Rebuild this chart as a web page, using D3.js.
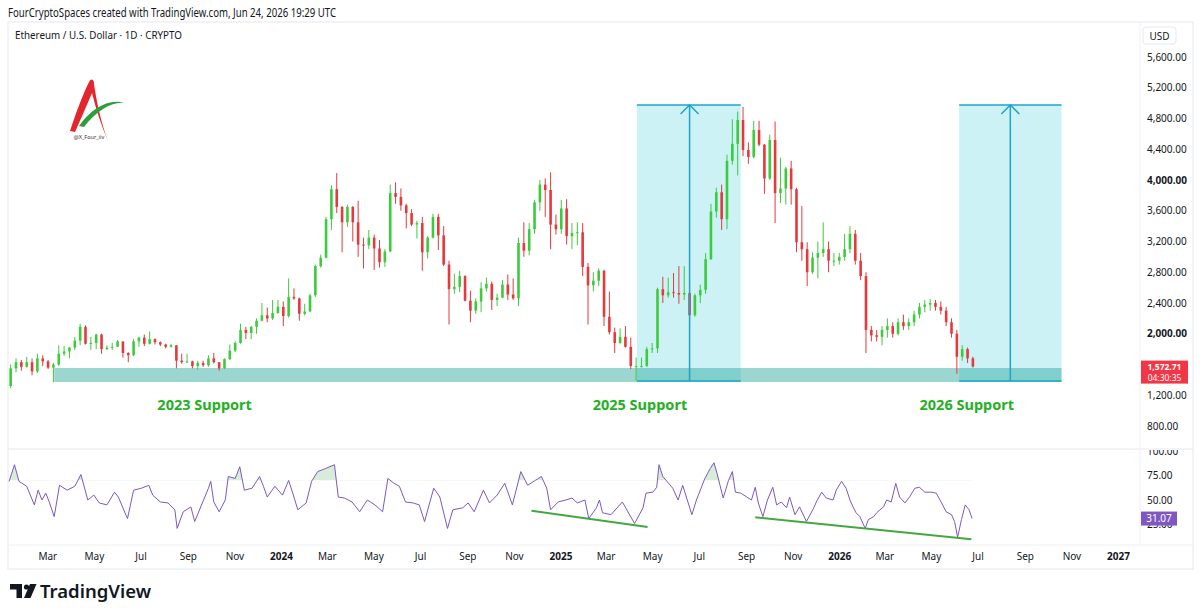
<!DOCTYPE html>
<html>
<head>
<meta charset="utf-8">
<script src="https://cdn.jsdelivr.net/npm/d3@7/dist/d3.min.js"></script>
<style>
html,body{margin:0;padding:0;background:#fff;}
svg{display:block;}
text{font-family:"Noto Sans","Open Sans",sans-serif;}
</style>
</head>
<body>
<svg id="chart" width="1200" height="615"></svg>
<script>
// ================= DATA =================
// Weekly ETH/USD candles (open = previous close), first week starting Monday 2023-01-09
const candleStart = "2023-01-09";
const firstOpen = 1320;
const closes = [
 1550,1630,1570,1630,1510,1680,1640,1560,1600,1740,1770,1820,1910,2090,1870,1880,1990,1800,1820,1830,1900,1750,1720,1900,1950,1870,1930,1890,1860,1830,1850,1650,1630,1640,1580,1620,1590,1680,1630,1550,1670,1780,1880,2050,2010,2090,2170,2240,2200,2270,2350,
 2230,2480,2460,2260,2290,2500,2880,2990,3490,3880,3650,3450,3650,3450,3160,3150,3250,3110,2930,3070,3830,3780,3670,3570,3420,3440,3060,3250,3520,3280,2900,2580,2610,2750,2430,2300,2420,2590,2650,2440,2470,2640,2510,2460,3180,3080,3360,3710,3940,3870,3420,3360,3630,
 3270,3310,3320,2870,2630,2690,2820,2220,2020,1880,1960,1830,1580,1580,1580,1800,1810,2580,2500,2540,2530,2510,2530,2240,2500,2570,2970,3590,3840,3490,4250,4470,4780,4390,4300,4650,4460,4020,4520,3830,3890,4150,3880,3190,3100,2800,2990,3050,3100,2950,2950,3000,
 3100,3300,2950,2750,2050,1980,1960,2050,2100,2000,2150,2100,2150,2250,2350,2380,2400,2350,2300,2150,2000,1700,1800,1680,1573
];
const highs = [
 1600,1680,1660,1700,1680,1740,1720,1660,1620,1850,1840,1830,1960,2130,2110,1960,2000,2000,1850,1880,1920,1900,1760,1930,1960,1990,2030,1940,1900,1870,1870,1850,1740,1740,1650,1650,1650,1720,1750,1630,1680,1860,1900,2130,2090,2100,2200,2400,2340,2440,2440,
 2420,2720,2590,2470,2390,2520,2900,3030,3520,3930,4090,3660,3680,3660,3730,3250,3350,3290,3220,3100,3940,3970,3890,3690,3620,3470,3520,3270,3560,3560,3400,2950,2780,2820,2760,2560,2460,2670,2730,2680,2520,2700,2770,2720,3250,3450,3440,3740,4000,4020,4100,3550,3740,
 3750,3440,3450,3440,2920,2800,2850,2830,2550,2080,2070,2100,1950,1690,1690,1830,1880,2600,2740,2730,2790,2880,2880,2680,2520,2640,3050,3690,3900,3940,4330,4790,4890,4950,4490,4770,4770,4470,4590,4760,4290,4170,4250,3900,3660,3190,3060,3200,3450,3200,3050,3050,
 3300,3400,3350,3050,2800,2100,2050,2100,2200,2150,2200,2250,2200,2300,2400,2440,2450,2440,2420,2350,2200,2050,1850,1820,1700
];
const lows = [
 1290,1500,1520,1560,1460,1490,1580,1540,1370,1580,1710,1680,1790,1850,1860,1790,1800,1740,1790,1790,1830,1690,1630,1710,1830,1840,1860,1860,1840,1810,1820,1550,1610,1620,1550,1530,1570,1570,1610,1520,1540,1660,1760,1870,1930,1930,2000,2160,2150,2180,2260,
 2100,2210,2440,2170,2240,2280,2480,2860,2980,3350,3570,3060,3390,3200,3000,2850,3100,2830,2860,2870,3060,3690,3600,3370,3400,3240,2820,2980,3240,3090,2880,2120,2520,2540,2420,2150,2260,2280,2550,2310,2360,2460,2440,2440,2360,3000,3020,3300,3600,3520,3100,3290,3300,
 3160,3100,3150,2750,2120,2550,2620,2100,1990,1750,1870,1820,1540,1390,1560,1570,1750,1750,2400,2470,2470,2390,2440,2110,2220,2400,2520,2960,3510,3350,3360,4200,4060,4310,4210,4280,4440,3820,4000,3440,3700,3680,3680,3060,2950,2620,2780,2720,3000,2800,2880,2900,
 2950,3050,2900,2700,1750,1900,1900,1850,1950,1950,1980,2050,2050,2100,2200,2280,2300,2300,2250,2100,1950,1480,1650,1620,1560
];

// RSI(14)
const rsiDates = ["2023-01-10","2023-01-17","2023-01-23","2023-02-02","2023-02-12","2023-02-17","2023-02-22","2023-02-27","2023-03-04","2023-03-10","2023-03-17","2023-03-27","2023-04-06","2023-04-14","2023-04-23","2023-05-01","2023-05-08","2023-05-18","2023-05-28","2023-06-02","2023-06-14","2023-06-22","2023-07-02","2023-07-12","2023-07-17","2023-07-27","2023-08-06","2023-08-15","2023-08-18","2023-08-26","2023-09-05","2023-09-10","2023-09-20","2023-09-28","2023-10-01","2023-10-05","2023-10-12","2023-10-20","2023-10-24","2023-11-02","2023-11-08","2023-11-14","2023-11-24","2023-12-04","2023-12-09","2023-12-14","2023-12-24",
 "2024-01-03","2024-01-11","2024-01-18","2024-01-23","2024-02-03","2024-02-10","2024-02-18","2024-02-28","2024-03-11","2024-03-16","2024-03-24","2024-04-03","2024-04-13","2024-04-23","2024-05-03","2024-05-13","2024-05-20","2024-05-28","2024-06-04","2024-06-12","2024-06-22","2024-06-30","2024-07-07","2024-07-14","2024-07-19","2024-07-27","2024-08-06","2024-08-13","2024-08-26","2024-09-02","2024-09-10","2024-09-22","2024-09-30","2024-10-10","2024-10-20","2024-10-30","2024-11-10","2024-11-19","2024-11-29","2024-12-07","2024-12-14","2024-12-19","2024-12-29",
 "2025-01-08","2025-01-16","2025-01-23","2025-02-02","2025-02-07","2025-02-17","2025-02-21","2025-02-25","2025-03-08","2025-03-23","2025-04-08","2025-04-19","2025-04-23","2025-05-02","2025-05-07","2025-05-10","2025-05-15","2025-05-28","2025-06-04","2025-06-10","2025-06-16","2025-06-22","2025-06-28","2025-07-09","2025-07-16","2025-07-21","2025-07-25","2025-08-02","2025-08-09","2025-08-14","2025-08-18","2025-08-25","2025-09-02","2025-09-08","2025-09-13","2025-09-17","2025-09-23","2025-09-29","2025-10-06","2025-10-11","2025-10-17","2025-10-24","2025-10-28","2025-11-04","2025-11-10","2025-11-19","2025-11-28","2025-12-02","2025-12-09","2025-12-15","2025-12-24","2025-12-28",
 "2026-01-04","2026-01-10","2026-01-15","2026-01-19","2026-01-23","2026-01-28","2026-02-04","2026-02-08","2026-02-15","2026-02-19","2026-02-28","2026-03-04","2026-03-10","2026-03-16","2026-03-21","2026-03-28","2026-04-03","2026-04-10","2026-04-16","2026-04-23","2026-05-02","2026-05-08","2026-05-15","2026-05-21","2026-05-28","2026-06-01","2026-06-05","2026-06-10","2026-06-15","2026-06-20","2026-06-24"];
const rsiValues = [69,86,69,64,45,60,50,57,47,33,65,60,64,76,50,55,47,45,58,53,31,60,62,65,55,48,47,40,21,38,43,28,47,62,69,48,38,50,74,72,84,60,62,74,64,53,64,
 55,70,53,40,47,69,79,82,86,53,52,48,38,50,45,38,72,67,64,48,47,45,28,48,62,53,21,40,42,47,38,60,47,55,67,45,79,65,70,74,62,40,48,
 50,52,47,50,31,42,50,37,35,48,26,42,57,58,63,86,74,62,50,65,50,35,50,72,82,88,77,52,70,79,58,57,53,50,63,47,33,50,63,45,48,42,53,35,43,28,41,48,58,52,50,60,
 69,62,50,43,37,33,21,30,33,37,43,50,48,67,53,47,53,62,63,58,58,57,47,38,35,28,12,30,45,40,31.07];

// RSI divergence lines [start, end]
const rsiLineDates = [["2024-11-24","2025-04-25"],["2025-09-13","2026-06-23"]];
const rsiLineValues = [[39,22.4],[32.3,9.9]];

// Support zone and price-range boxes
const supportDates = ["2023-03-10","2026-10-19"];
const supportPrices = [1372,1554];
const rangeBoxStart = ["2025-04-11","2026-06-07"];
const rangeBoxEnd = ["2025-08-25","2026-10-19"];
const rangeBoxArrow = ["2025-06-19","2026-08-13"];
const rangeBoxPrices = [1385,4976];

const supportLabels = ["2023 Support","2025 Support","2026 Support"];
const supportLabelDates = ["2023-09-23","2025-04-15","2026-06-17"];
const supportLabelPrice = 1010;

const priceTicks = [800,1200,2000,2400,2800,3200,3600,4000,4400,4800,5200,5600];
const boldPriceTicks = [2000,4000];
const rsiTicks = [25,50,75,100];
const timeTickDates = ["2023-03-01","2023-05-01","2023-07-01","2023-09-01","2023-11-01","2024-01-01","2024-03-01","2024-05-01","2024-07-01","2024-09-01","2024-11-01","2025-01-01","2025-03-01","2025-05-01","2025-07-01","2025-09-01","2025-11-01","2026-01-01","2026-03-01","2026-05-01","2026-07-01","2026-09-01","2026-11-01","2027-01-01"];
const timeTickLabels = ["Mar","May","Jul","Sep","Nov","2024","Mar","May","Jul","Sep","Nov","2025","Mar","May","Jul","Sep","Nov","2026","Mar","May","Jul","Sep","Nov","2027"];

const lastPrice = 1572.71;
const countdown = "04:30:35";
const lastRsi = 31.07;

// ================= LAYOUT =================
const svg = d3.select("#chart");
const L = 8, R = 1193, AX = 1140, TOP = 22, PB = 449, RB = 545, BOT = 569;
const parse = d3.utcParse("%Y-%m-%d");
const UP = "#3ccb3c", DOWN = "#e5393c", RANGE = "#1fa3c8";

const x = d3.scaleUtc().domain([parse("2024-01-01"), parse("2027-01-01")]).range([281, 1118]);
const y = d3.scaleLinear().domain([800, 5600]).range([426, 57]);
const yr = d3.scaleLinear().domain([0, 100]).range([549, 451]);

const defs = svg.append("defs");
defs.append("clipPath").attr("id","cp").append("rect").attr("x",L).attr("y",TOP).attr("width",AX-L).attr("height",PB-TOP);
defs.append("clipPath").attr("id","cr").append("rect").attr("x",L).attr("y",PB).attr("width",AX-L).attr("height",RB-PB);
defs.append("clipPath").attr("id","crAxis").append("rect").attr("x",AX).attr("y",PB+1).attr("width",R-AX).attr("height",RB-PB);
defs.append("clipPath").attr("id","cOB").append("rect").attr("x",L).attr("y",PB).attr("width",AX-L).attr("height",yr(70)-PB);

// frame
svg.append("rect").attr("x",L).attr("y",TOP).attr("width",R-L).attr("height",BOT-TOP).attr("fill","#fff").attr("stroke","#e6e8ee");
svg.append("line").attr("x1",L).attr("x2",R).attr("y1",PB).attr("y2",PB).attr("stroke","#e6e8ee");
svg.append("line").attr("x1",L).attr("x2",R).attr("y1",RB).attr("y2",RB).attr("stroke","#eef0f3");
svg.append("line").attr("x1",AX).attr("x2",AX).attr("y1",TOP).attr("y2",RB).attr("stroke","#eef0f3");

// header
svg.append("text").attr("x",8).attr("y",17).attr("font-size",12).attr("fill","#131722")
  .attr("textLength",328).attr("lengthAdjust","spacingAndGlyphs")
  .text("FourCryptoSpaces created with TradingView.com, Jun 24, 2026 19:29 UTC");
svg.append("text").attr("x",15).attr("y",38.5).attr("font-size",10.5).attr("fill","#131722")
  .attr("textLength",167).attr("lengthAdjust","spacingAndGlyphs")
  .text("Ethereum / U.S. Dollar \u00B7 1D \u00B7 CRYPTO");

// ---------- price pane ----------
const pane = svg.append("g").attr("clip-path","url(#cp)");

rangeBoxStart.forEach((s,i)=>{
  const x0 = x(parse(s)), x1 = x(parse(rangeBoxEnd[i]));
  pane.append("rect").attr("x",x0).attr("width",x1-x0)
    .attr("y",y(rangeBoxPrices[1])).attr("height",y(rangeBoxPrices[0])-y(rangeBoxPrices[1]))
    .attr("fill","#00bcd4").attr("fill-opacity",0.2);
});

pane.append("rect")
  .attr("x",x(parse(supportDates[0]))).attr("width",x(parse(supportDates[1]))-x(parse(supportDates[0])))
  .attr("y",y(supportPrices[1])).attr("height",y(supportPrices[0])-y(supportPrices[1]))
  .attr("fill","#26a69a").attr("fill-opacity",0.46);

const t0 = parse(candleStart);
const candles = closes.map((c,i)=>({
  date: d3.utcDay.offset(t0, 7*i+3),
  o: i===0 ? firstOpen : closes[i-1], h: highs[i], l: lows[i], c
}));
const cg = pane.append("g");
cg.selectAll("line.w").data(candles).join("line").attr("class","w")
  .attr("x1",d=>x(d.date)).attr("x2",d=>x(d.date))
  .attr("y1",d=>y(d.h)).attr("y2",d=>y(d.l))
  .attr("stroke",d=>d.c>=d.o?UP:DOWN).attr("stroke-width",1);
cg.selectAll("rect.b").data(candles).join("rect").attr("class","b")
  .attr("x",d=>x(d.date)-1.3).attr("width",2.6)
  .attr("y",d=>y(Math.max(d.o,d.c)))
  .attr("height",d=>Math.max(1,Math.abs(y(d.o)-y(d.c))))
  .attr("fill",d=>d.c>=d.o?UP:DOWN);

rangeBoxStart.forEach((s,i)=>{
  const x0 = x(parse(s)), x1 = x(parse(rangeBoxEnd[i])), xa = x(parse(rangeBoxArrow[i]));
  const yt = y(rangeBoxPrices[1]), yb = y(rangeBoxPrices[0]);
  const g = pane.append("g").attr("stroke",RANGE).attr("stroke-width",1.5).attr("fill","none");
  g.append("line").attr("x1",x0).attr("x2",x1).attr("y1",yt).attr("y2",yt);
  g.append("line").attr("x1",x0).attr("x2",x1).attr("y1",yb).attr("y2",yb);
  g.append("line").attr("x1",xa).attr("x2",xa).attr("y1",yb).attr("y2",yt);
  g.append("path").attr("d",`M${xa-9},${yt+9}L${xa},${yt}L${xa+9},${yt+9}`);
});

supportLabels.forEach((t,i)=>{
  svg.append("text").attr("x",x(parse(supportLabelDates[i]))).attr("y",y(supportLabelPrice))
    .attr("text-anchor","middle").attr("font-size",14.5).attr("font-weight",700).attr("fill","#23b123").text(t);
});

// logo (top-left)
const logo = svg.append("g");
logo.append("path").attr("d","M70,131 C75,116 82,96 89,82 C91,78 94,79 94,84 C97,104 101,122 108,141 C101,125 96,109 92,93 C86,107 80,121 75,132 Z").attr("fill","#e3262d");
logo.append("path").attr("d","M79,126 C91,109 108,98 125,103 C112,101 96,111 84,127 Z").attr("fill","#2e9e3c");
logo.append("text").attr("x",89).attr("y",139).attr("text-anchor","middle").attr("font-size",5.5).attr("fill","#333").text("@X_Four_iiv");

// ---------- RSI pane ----------
const rp = svg.append("g").attr("clip-path","url(#cr)");
const rsi = rsiDates.map((d,i)=>({date:parse(d), v:rsiValues[i]}));
rp.append("g").attr("clip-path","url(#cOB)").append("path").datum(rsi)
  .attr("d", d3.area().x(d=>x(d.date)).y0(yr(70)).y1(d=>yr(d.v)))
  .attr("fill","#4caf50").attr("fill-opacity",0.22);
rp.append("path").datum(rsi)
  .attr("d", d3.line().x(d=>x(d.date)).y(d=>yr(d.v)))
  .attr("fill","none").attr("stroke","#7e57c2").attr("stroke-width",1);
rsiLineDates.forEach((pair,i)=>{
  rp.append("line")
    .attr("x1",x(parse(pair[0]))).attr("y1",yr(rsiLineValues[i][0]))
    .attr("x2",x(parse(pair[1]))).attr("y2",yr(rsiLineValues[i][1]))
    .attr("stroke","#43a842").attr("stroke-width",2);
});

// ---------- axes ----------
const fmt = d3.format(",.2f");
const pa = svg.append("g").attr("transform",`translate(${AX},0)`)
  .call(d3.axisRight(y).tickValues(priceTicks).tickSize(0).tickPadding(7).tickFormat(fmt));
pa.select(".domain").remove();
pa.selectAll("text").attr("font-size",10).attr("fill","#131722").attr("font-family","Noto Sans")
  .attr("font-weight",d=>boldPriceTicks.includes(d)?700:400);

const ra = svg.append("g").attr("clip-path","url(#crAxis)").append("g").attr("transform",`translate(${AX},0)`)
  .call(d3.axisRight(yr).tickValues(rsiTicks).tickSize(0).tickPadding(7).tickFormat(fmt));
ra.select(".domain").remove();
ra.selectAll("text").attr("font-size",10).attr("fill","#131722").attr("font-family","Noto Sans");

const ta = svg.append("g").attr("transform",`translate(0,${RB})`)
  .call(d3.axisBottom(x).tickValues(timeTickDates.map(parse)).tickSize(0).tickPadding(8)
    .tickFormat((d,i)=>timeTickLabels[i]));
ta.select(".domain").remove();
ta.selectAll("text").attr("font-size",10).attr("fill","#131722").attr("font-family","Noto Sans")
  .attr("font-weight",(d,i)=>/^\d{4}$/.test(timeTickLabels[i])?700:400);

// USD box
svg.append("rect").attr("x",1143).attr("y",27).attr("width",33).attr("height",17).attr("rx",3)
  .attr("fill","#fff").attr("stroke","#e6e8ee");
svg.append("text").attr("x",1159.5).attr("y",39.5).attr("text-anchor","middle").attr("font-size",10).attr("fill","#131722").text("USD");

// last price label
const ly = y(lastPrice);
svg.append("rect").attr("x",AX+1).attr("y",ly-6).attr("width",47).attr("height",23).attr("fill","#f23645");
svg.append("text").attr("x",AX+24.5).attr("y",ly+3).attr("text-anchor","middle").attr("font-size",8.5).attr("font-weight",700).attr("fill","#fff").text(fmt(lastPrice));
svg.append("text").attr("x",AX+24.5).attr("y",ly+14.5).attr("text-anchor","middle").attr("font-size",8.5).attr("fill","#fff").text(countdown);

// last RSI label
const ry = yr(lastRsi);
svg.append("rect").attr("x",AX+1).attr("y",ry-7).attr("width",36).attr("height",14).attr("fill","#7e57c2");
svg.append("text").attr("x",AX+19).attr("y",ry+3.5).attr("text-anchor","middle").attr("font-size",10).attr("fill","#fff").text(lastRsi.toFixed(2));

// TradingView footer logo
const tv = svg.append("g").attr("fill","#131722");
tv.append("path").attr("d","M10,584 H22 V598 H16.5 V589.5 H10 Z");
tv.append("circle").attr("cx",26.5).attr("cy",587).attr("r",2.6);
tv.append("path").attr("d","M30,584 H36.5 L30.5,598 H24 Z");
tv.append("text").attr("x",40).attr("y",597.5).attr("font-size",18.5).attr("font-weight",600).attr("fill","#131722").text("TradingView");
</script>
</body>
</html>
